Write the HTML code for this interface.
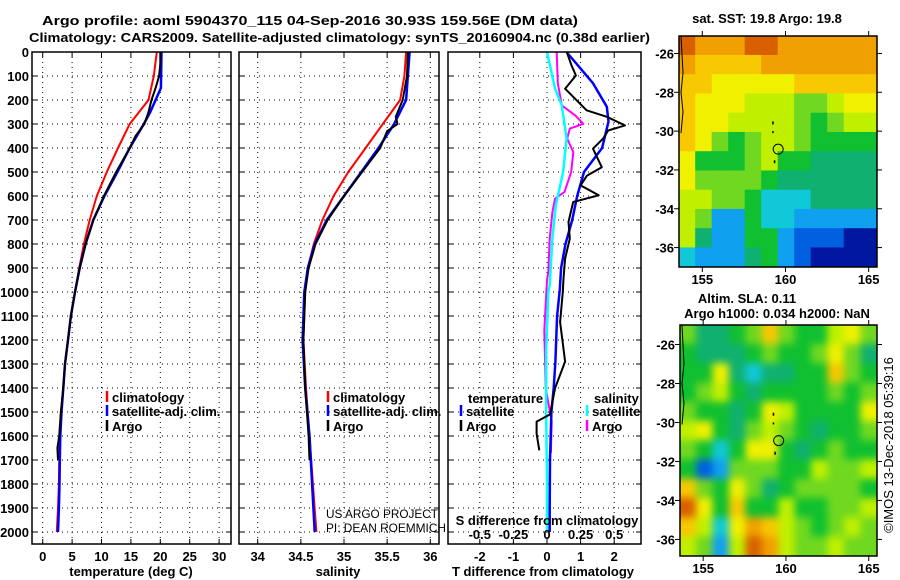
<!DOCTYPE html>
<html><head><meta charset="utf-8"><style>
html,body{margin:0;padding:0;background:#fff;}
svg{display:block;font-family:"Liberation Sans",sans-serif;}
.b{font-weight:bold;font-size:13px;}
.t{font-weight:bold;font-size:13px;}
</style></head><body>
<svg id="fig" width="900" height="580" viewBox="0 0 900 580" xmlns="http://www.w3.org/2000/svg">
<text x="42" y="25" class="t" textLength="536" lengthAdjust="spacingAndGlyphs">Argo profile: aoml 5904370_115 04-Sep-2016 30.93S 159.56E (DM data)</text>
<text x="29" y="42" class="t" textLength="621" lengthAdjust="spacingAndGlyphs">Climatology: CARS2009. Satellite-adjusted climatology: synTS_20160904.nc (0.38d earlier)</text>
<g id="plots"></g>
<text x="326" y="518" font-size="12" textLength="112" lengthAdjust="spacingAndGlyphs">US ARGO PROJECT</text>
<text x="326" y="532" font-size="12" textLength="120" lengthAdjust="spacingAndGlyphs">PI: DEAN ROEMMICH</text>
<text x="767" y="23" class="b" text-anchor="middle">sat. SST: 19.8 Argo: 19.8</text>
<text x="747" y="303" class="b" text-anchor="middle">Altim. SLA: 0.11</text>
<text x="777" y="318" class="b" text-anchor="middle">Argo h1000: 0.034 h2000: NaN</text>
<text transform="translate(893,445) rotate(-90)" font-size="13" text-anchor="middle">©IMOS 13-Dec-2018 05:39:16</text>
</svg>
<script>
// ---------- depth axis ----------
const depthTicks = [0,100,200,300,400,500,600,700,800,900,1000,1100,1200,1300,1400,1500,1600,1700,1800,1900,2000];
// ---------- temperature panel ----------
const tempTicks = [0,5,10,15,20,25,30];
const tClimP = [0,100,200,300,400,500,600,700,800,900,1000,1100,1200,1300,1400,1500,1600,1700,1800,1900,2000];
const tClimV = [19.4,18.9,18.0,14.8,12.8,10.9,9.2,8.0,7.0,6.2,5.5,4.8,4.3,3.8,3.5,3.1,2.9,2.8,2.75,2.6,2.4];
const tSatP = [0,150,200,250,300,400,500,600,700,800,900,1000,1100,1200,1300,1400,1500,1600,1700,1800,1900,2000];
const tSatV = [20.2,20.1,19.2,18.3,17.2,14.8,12.7,10.5,8.6,7.3,6.3,5.5,4.8,4.3,3.8,3.5,3.2,3.0,2.9,2.85,2.75,2.6];
const tArgoP = [0,50,100,150,200,250,300,350,400,500,600,700,800,900,1000,1100,1200,1300,1400,1500,1600,1650,1700];
const tArgoV = [20.0,20.0,19.8,19.2,18.5,18.0,17.3,15.8,14.8,12.5,10.4,8.6,7.3,6.3,5.5,4.8,4.3,3.8,3.5,3.1,2.8,2.5,2.6];
// ---------- salinity panel ----------
const salTicks = [34,34.5,35,35.5,36];
const sClimP = [0,100,200,250,300,400,500,600,700,800,900,1000,1200,1400,1600,1800,2000];
const sClimV = [35.72,35.70,35.65,35.55,35.45,35.25,35.05,34.88,34.75,34.65,34.58,34.55,34.53,34.56,34.60,34.64,34.68];
const sSatP = [0,200,250,300,400,500,600,700,800,900,1000,1200,1400,1600,1800,2000];
const sSatV = [35.76,35.72,35.65,35.58,35.40,35.20,35.00,34.80,34.66,34.58,34.54,34.52,34.55,34.60,34.63,34.66];
const sArgoP = [0,100,200,270,300,330,400,500,600,700,800,900,1000,1200,1400,1600,1700];
const sArgoV = [35.74,35.73,35.68,35.60,35.62,35.50,35.42,35.21,35.00,34.81,34.67,34.59,34.55,34.53,34.55,34.59,34.60];
// ---------- difference panel ----------
const tdTicks = [-2,-1,0,1,2];
const sdTicks = [-0.5,-0.25,0,0.25,0.5];
const sdTickLabels = ["-0.5","-0.25","0","0.25","0.5"];
const dTSatP = [0,130,228,290,400,500,600,700,800,900,990,1100,1290,1400,1500,1700,1900,2000];
const dTSatV = [0.58,1.37,1.78,1.83,1.64,1.10,0.90,0.75,0.55,0.42,0.38,0.30,0.25,0.20,0.13,0.09,0.08,0.08];
const dTArgoP = [0,56,98,153,194,243,270,306,327,361,403,480,515,556,597,625,708,778,861,944,1000,1125,1290,1400,1510,1540,1590,1660];
const dTArgoV = [0.59,0.73,0.86,0.54,0.83,1.18,1.78,2.32,1.82,1.67,1.37,1.63,1.19,1.00,1.54,0.78,0.64,0.68,0.54,0.49,0.47,0.39,0.54,0.24,0.09,-0.31,-0.31,-0.23];
const dSSatP = [0,153,222,361,500,640,778,972,1000,1250,1500,1780,2000];
const dSSatV = [0,0.06,0.11,0.146,0.12,0.065,0.04,0.02,0.01,-0.007,-0.007,0,0];
const dSArgoP = [0,130,222,264,299,319,361,417,500,583,611,667,778,917,950,1160,1400,1540,1650,1670];
const dSArgoV = [0.072,0.08,0.11,0.21,0.27,0.17,0.15,0.196,0.18,0.13,0.06,0.04,0.02,0.01,0,-0.02,-0.01,0.035,0.03,0.03];
// ---------- maps ----------
const lonTicks = [155,160,165];
const latTicks = [-26,-28,-30,-32,-34,-36];
const sstGrid = [
[11,10,10,10,11,11,10,10,10,10,10,10],
[10,9,9,9,9,10,10,10,10,10,10,10],
[9,9,8,8,8,8,8,9,9,9,9,9],
[9,8,8,8,7,7,7,6,6,7,8,8],
[9,8,8,7,7,7,7,6,5,6,7,7],
[9,8,6,5,6,7,7,6,5,5,5,5],
[8,5,5,5,6,7,5,5,4,4,4,4],
[8,6,6,6,6,5,4,4,4,4,4,4],
[7,7,6,6,5,3,3,3,4,4,4,4],
[7,6,2,2,5,3,3,2,2,2,2,2],
[7,4,2,2,5,5,2,1,1,1,0,0],
[3,2,2,2,4,5,2,1,0,0,0,0]];
const slaGrid = [
[6,4,4,5,6,9,6,5,5,7,8,6],
[5,4,4,4,5,6,5,5,6,8,6,4],
[5,5,8,4,3,4,4,5,5,9,6,5],
[5,6,7,5,4,5,5,5,5,6,5,6],
[6,5,5,4,5,8,7,5,5,5,5,8],
[7,8,5,4,6,7,6,5,4,5,5,6],
[6,5,3,5,8,8,5,4,5,6,5,5],
[5,1,2,6,6,6,5,5,7,6,6,7],
[9,6,5,8,6,4,5,6,6,6,6,5],
[11,8,5,9,5,5,7,5,5,6,6,7],
[9,7,3,8,10,9,7,6,5,6,7,6],
[7,6,2,7,11,10,7,6,6,7,6,6]];
const palette = ["#0018a0","#0060e0","#10a0f0","#10c8d8","#10b070","#10c030","#70d820","#c0f000","#f0f000","#f8c800","#f0a000","#d86000"];
const floatLon = 159.56, floatLat = -30.93;

const NS="http://www.w3.org/2000/svg";
const root=document.getElementById('plots');
function mk(tag,attrs,parent){const e=document.createElementNS(NS,tag);for(const k in attrs)e.setAttribute(k,attrs[k]);(parent||root).appendChild(e);return e;}
const Y0=52, PXP=0.24;
function yP(p){return Y0+p*PXP;}

function panel(x0,x1,name){
  const g=mk('g',{});
  
  
  return g;
}
function frame(g,x0,x1,y0,y1){
  const r=mk('rect',{x:x0,y:y0,width:x1-x0,height:y1-y0,fill:'none',stroke:'#000','stroke-width':1.5},g);
  
  
}
function hgrid(g,x0,x1){
  depthTicks.forEach(p=>{
    const y=yP(p);
    const l=mk('line',{x1:x0,x2:x1,y1:y,y2:y,stroke:'#000','stroke-dasharray':'1,4','stroke-width':1},g);
    
    
    mk('line',{x1:x0,x2:x0+5,y1:y,y2:y,stroke:'#000'},g);
    mk('line',{x1:x1-5,x2:x1,y1:y,y2:y,stroke:'#000'},g);
  });
}
function vgrid(g,ticks,xf,y0,y1){
  ticks.forEach(v=>{
    const x=xf(v);
    const l=mk('line',{x1:x,x2:x,y1:y0,y2:y1,stroke:'#000','stroke-dasharray':'1,4','stroke-width':1},g);
    
    
    mk('line',{x1:x,x2:x,y1:y1-5,y2:y1,stroke:'#000'},g);
    mk('line',{x1:x,x2:x,y1:y0,y2:y0+5,stroke:'#000'},g);
  });
}
function xlabels(g,ticks,labels,xf,y){
  ticks.forEach((v,i)=>{
    const t=mk('text',{x:xf(v),y:y,'text-anchor':'middle','class':'b'},g);
    t.textContent=labels?labels[i]:String(v);
    
    
  });
}
function series(g,ps,vs,xf,color,name,w){
  const d=ps.map((p,i)=>(i?'L':'M')+xf(vs[i]).toFixed(1)+','+yP(p).toFixed(1)).join('');
  const path=mk('path',{d:d,fill:'none',stroke:color,'stroke-width':w||2,'stroke-linejoin':'round'},g);
  
  
}
function legendEntry(g,x,y,color,label){
  const e=mk('g',{},g);
  
  
  mk('line',{x1:x,x2:x,y1:y-11,y2:y,stroke:color,'stroke-width':2.5},e);
  const t=mk('text',{x:x+5,y:y,'class':'b'},e);
  t.textContent=label;
}
function text(g,x,y,s,name,anchor){
  const t=mk('text',{x:x,y:y,'class':'b','text-anchor':anchor||'start'},g);
  t.textContent=s;
  
  
  return t;
}
const YB=544;
depthTicks.forEach(p=>{
  const t=mk('text',{x:29,y:yP(p)+5,'text-anchor':'end','class':'b'});
  t.textContent=String(p);
  
  
});
{
  const x0=32,x1=231; const xf=v=>42.7+v*5.88;
  const g=panel(x0,x1,'temperature-panel');
  hgrid(g,x0,x1); vgrid(g,tempTicks,xf,Y0,YB);
  series(g,tClimP,tClimV,xf,'#f00','temperature-climatology-line');
  series(g,tSatP,tSatV,xf,'#00f','temperature-satellite-line',2.5);
  series(g,tArgoP,tArgoV,xf,'#000','temperature-argo-line');
  frame(g,x0,x1,Y0,YB);
  xlabels(g,tempTicks,null,xf,561);
  text(g,131,576,'temperature (deg C)','x-axis-title','middle');
  legendEntry(g,107,402,'#f00','climatology');
  legendEntry(g,107,416,'#00f','satellite-adj. clim.');
  legendEntry(g,107,431,'#000','Argo');
}
{
  const x0=239,x1=439; const xf=v=>257.7+(v-34)*86.3;
  const g=panel(x0,x1,'salinity-panel');
  hgrid(g,x0,x1); vgrid(g,salTicks,xf,Y0,YB);
  series(g,sClimP,sClimV,xf,'#f00','salinity-climatology-line');
  series(g,sSatP,sSatV,xf,'#00f','salinity-satellite-line',2.5);
  series(g,sArgoP,sArgoV,xf,'#000','salinity-argo-line');
  frame(g,x0,x1,Y0,YB);
  xlabels(g,salTicks,null,xf,561);
  text(g,338,576,'salinity','x-axis-title','middle');
  legendEntry(g,328,402,'#f00','climatology');
  legendEntry(g,328,416,'#00f','satellite-adj. clim.');
  legendEntry(g,328,431,'#000','Argo');
}
{
  const x0=448,x1=641; const xf=v=>547+v*33.6; const sf=v=>547+v*134.4;
  const g=panel(x0,x1,'difference-panel');
  hgrid(g,x0,x1); vgrid(g,tdTicks,xf,Y0,YB);
  series(g,dSArgoP,dSArgoV,sf,'#f0f','salinity-argo-diff-line');
  series(g,dSSatP,dSSatV,sf,'#0ff','salinity-satellite-diff-line',2.5);
  series(g,dTSatP,dTSatV,xf,'#00f','temperature-satellite-diff-line',2.5);
  series(g,dTArgoP,dTArgoV,xf,'#000','temperature-argo-diff-line');
  frame(g,x0,x1,Y0,YB);
  text(g,547,525,'S difference from climatology','s-axis-title','middle');
  sdTicks.forEach((v,i)=>{text(g,sf(v),539,sdTickLabels[i],'s-tick-label','middle');});
  xlabels(g,tdTicks,null,xf,561);
  text(g,543,576,'T difference from climatology','x-axis-title','middle');
  text(g,468,403,'temperature','legend-header');
  legendEntry(g,461,416,'#00f','satellite');
  legendEntry(g,461,431,'#000','Argo');
  text(g,594,403,'salinity','legend-header');
  legendEntry(g,587,416,'#0ff','satellite');
  legendEntry(g,587,431,'#f0f','Argo');
}
function map(grid,mx0,mx1,my0,my1,lat0,lat1,name,blur){
  const g=panel(mx0,mx1,name);
  const lon0=153.6,lon1=165.5;
  const xf=v=>mx0+(v-lon0)/(lon1-lon0)*(mx1-mx0);
  const yf=v=>my0+(lat0-v)/(lat0-lat1)*(my1-my0);
  const id='clip'+name;
  const cp=mk('clipPath',{id:id},g); mk('rect',{x:mx0,y:my0,width:mx1-mx0,height:my1-my0},cp);
  const cg=mk('g',{'clip-path':'url(#'+id+')'},g);
  const ig=mk('g',blur?{filter:'url(#bl)'}:{},cg);
  const nr=grid.length,nc=grid[0].length,cw=(mx1-mx0)/nc,ch=(my1-my0)/nr;
  const pad=blur?30:0;
  grid.forEach((row,r)=>row.forEach((v,c)=>{
    let x=mx0+c*cw-0.3, y=my0+r*ch-0.3, w=cw+0.6, h=ch+0.6;
    if(c===0){x-=pad;w+=pad;} if(c===nc-1){w+=pad;}
    if(r===0){y-=pad;h+=pad;} if(r===nr-1){h+=pad;}
    const cell=mk('rect',{x:x,y:y,width:w,height:h,fill:palette[v]},ig);
    
    
  }));
  mk('path',{d:`M${mx0+2},${my0}L${mx0+4},${yf(-27)}L${mx0+2},${yf(-28)}L${mx0+4},${yf(-29)}L${mx0+2},${yf(-30.1)}`,fill:'none',stroke:'#000','stroke-width':1},cg);
  mk('rect',{x:xf(159.2),y:yf(-29.5),width:1.5,height:3,fill:'#000'},cg);
  mk('rect',{x:xf(159.2),y:yf(-30.0),width:1.5,height:2,fill:'#000'},cg);
  mk('rect',{x:xf(159.3),y:yf(-31.5),width:1.5,height:3,fill:'#000'},cg);
  const m=mk('circle',{cx:xf(floatLon),cy:yf(floatLat),r:5,fill:'none',stroke:'#000','stroke-width':1},g);
  
  
  mk('rect',{x:mx0,y:my0,width:mx1-mx0,height:my1-my0,fill:'none',stroke:'#000','stroke-width':1.5},g);
  lonTicks.forEach(v=>{
    const x=xf(v);
    mk('line',{x1:x,x2:x,y1:my0-5,y2:my0,stroke:'#000'},g);
    mk('line',{x1:x,x2:x,y1:my1,y2:my1+5,stroke:'#000'},g);
    text(g,x,my1+17,String(v),'lon-tick-label','middle');
  });
  latTicks.forEach(v=>{
    const y=yf(v);
    mk('line',{x1:mx0-5,x2:mx0,y1:y,y2:y,stroke:'#000'},g);
    mk('line',{x1:mx1,x2:mx1+5,y1:y,y2:y,stroke:'#000'},g);
    text(g,mx0-5,y+5,String(v),'lat-tick-label','end');
  });
}
const defs=mk('defs',{});
const f=mk('filter',{id:'bl',filterUnits:'userSpaceOnUse',x:600,y:250,width:350,height:380,'color-interpolation-filters':'sRGB'},defs);
mk('feGaussianBlur',{stdDeviation:4},f);
map(sstGrid,679,877,36,267,-25.1,-37,'sst-map',false);
map(slaGrid,680,877,325,556,-25.0,-36.85,'sla-map',true);
</script>
</body></html>
